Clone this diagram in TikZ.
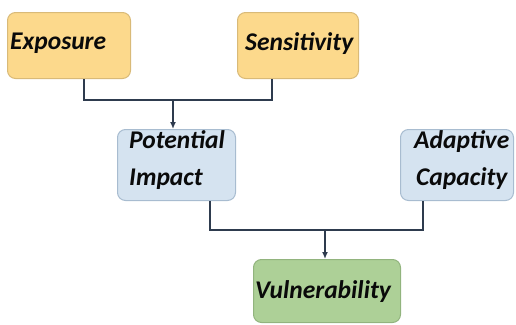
\documentclass[tikz,border=0pt]{standalone}
\usepackage{fontspec}
\setmainfont{Carlito}
\usetikzlibrary{arrows.meta}
\definecolor{yfill}{HTML}{FCD98C}
\definecolor{ydraw}{HTML}{D9BA78}
\definecolor{bfill}{HTML}{D5E3F0}
\definecolor{bdraw}{HTML}{A8BCD0}
\definecolor{gfill}{HTML}{ADD097}
\definecolor{gdraw}{HTML}{92B47E}
\definecolor{lcol}{HTML}{2E3B4E}
\definecolor{tcol}{HTML}{0A0A0A}
\begin{document}
\begin{tikzpicture}[x=1pt,y=-1pt,
  boxstyle/.style={rounded corners=8pt, line width=1pt, inner sep=0pt, anchor=north west},
  ybox/.style={boxstyle, fill=yfill, draw=ydraw},
  bbox/.style={boxstyle, fill=bfill, draw=bdraw},
  gbox/.style={boxstyle, fill=gfill, draw=gdraw},
  lbl/.style={inner sep=0pt, text=tcol, font=\fontsize{25.5}{37}\selectfont\bfseries\itshape, anchor=base west},
  conn/.style={draw=lcol, line width=2pt},
  arr/.style={conn, -{Latex[length=7pt,width=6pt]}}]
\useasboundingbox (0,0) rectangle (516,324);
% boxes
\node[ybox, minimum width=123pt, minimum height=66pt] (exposure) at (7,12) {};
\node[ybox, minimum width=121pt, minimum height=66pt] (sensitivity) at (237,12) {};
\node[bbox, minimum width=118pt, minimum height=71pt] (potential) at (117,129) {};
\node[bbox, minimum width=113pt, minimum height=71pt] (adaptive) at (400,129) {};
\node[gbox, minimum width=147pt, minimum height=63pt] (vulner) at (253,259) {};
% labels
\node[lbl] (exposureT) at (10,49) {Exposure};
\node[lbl] (sensitivityT) at (245,50) {Sensitivity};
\node[lbl, align=left] (potentialT) at (129,185) {Potential\\Impact};
\node[lbl, align=center] (adaptiveT) at (414,185) {Adaptive\\Capacity};
\node[lbl] (vulnerT) at (255,298) {Vulnerability};
% connectors
\coordinate (jt) at (173,100);
\coordinate (jb) at (325,230);
\draw[conn] (exposure.south -| 84,0) |- (jt) -| (sensitivity.south -| 272,0);
\draw[arr] (jt) -- (potential.north -| jt);
\draw[conn] (potential.south -| 210,0) |- (jb) -| (adaptive.south -| 423,0);
\draw[arr] (jb) -- (vulner.north -| jb);
\end{tikzpicture}
\end{document}
